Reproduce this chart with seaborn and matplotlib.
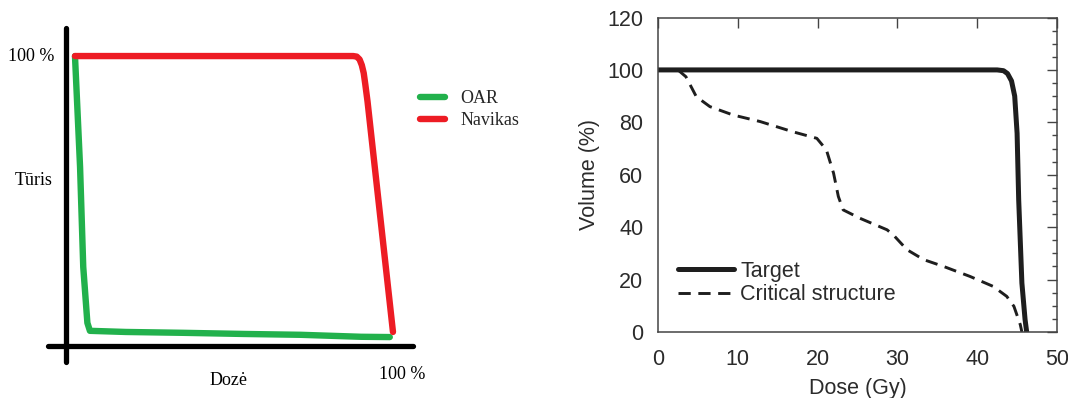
import matplotlib
matplotlib.use("Agg")
import matplotlib.pyplot as plt
from matplotlib.ticker import MultipleLocator
import pandas as pd
import seaborn as sns

# ---- schematic DVH (left) ----
oar_dose = [0, 1.6, 2.6, 3.9, 4.7, 16, 34, 53, 71, 90, 99]
oar_vol = [100, 60.9, 25.7, 6.0, 3.2, 2.8, 2.5, 2.1, 1.8, 1.1, 1.0]
nav_dose = [0, 87.5, 88.6, 89.5, 90.2, 90.8, 91.3, 92.0, 100]
nav_vol = [100, 100, 99.8, 98.8, 96.8, 94.0, 90.0, 84.0, 2.8]
left_names = ["OAR", "Navikas"]
left_colors = ["#22b14c", "#ed1c24"]

# ---- clinical DVH (right) ----
target_dose = [0, 42.5, 43.3, 43.8, 44.3, 44.7, 45.0, 45.2, 45.6, 46.0, 46.2]
target_vol = [100, 100, 99.7, 98.6, 95.8, 90.0, 75.8, 50.4, 18.7, 4.7, 0]
crit_dose = [0, 2.5, 3.5, 4.8, 6.5, 9.4, 12.8, 16.9, 19.9, 21.1, 22.0, 22.6,
             23.2, 25.3, 28.7, 29.5, 31.2, 33.3, 35.8, 39.1, 42.0, 43.7, 44.6,
             45.4, 45.6]
crit_vol = [100, 100, 97.4, 89.8, 86.0, 82.8, 80.3, 76.4, 73.9, 69.5, 60.6,
            51.7, 46.6, 43.4, 39.0, 37.0, 31.4, 27.6, 25.0, 21.2, 17.4, 13.6,
            9.8, 2.8, 0]
right_names = ["Target", "Critical structure"]
x_ticks = [0, 10, 20, 30, 40, 50]
y_ticks = [0, 20, 40, 60, 80, 100, 120]

sns.set_theme(style="white")
W, H = 1068, 398
fig = plt.figure(figsize=(W / 100, H / 100), dpi=100)


def px_axes(x0, y0, x1, y1):
    return fig.add_axes([x0 / W, 1 - y1 / H, (x1 - x0) / W, (y1 - y0) / H])


# ===== left panel =====
axl = px_axes(40, 20, 420, 370)
left_df = pd.concat([
    pd.DataFrame({"dose": oar_dose, "vol": oar_vol, "curve": left_names[0]}),
    pd.DataFrame({"dose": nav_dose, "vol": nav_vol, "curve": left_names[1]}),
])
sns.lineplot(data=left_df, x="dose", y="vol", hue="curve", hue_order=left_names,
             palette=left_colors, estimator=None, sort=False, linewidth=4.6,
             solid_capstyle="round", solid_joinstyle="round", ax=axl)
axl.set_xlim(-11.0, 108.5)
axl.set_ylim(-10.6, 112.7)
for side in ("top", "right"):
    axl.spines[side].set_visible(False)
axl.spines["left"].set_position(("data", -2.8))
axl.spines["left"].set_bounds(-7.7, 110)
axl.spines["bottom"].set_position(("data", -2.1))
axl.spines["bottom"].set_bounds(-8.5, 106.3)
for side in ("left", "bottom"):
    axl.spines[side].set_linewidth(3.8)
    axl.spines[side].set_color("black")
    axl.spines[side].set_capstyle("round")
axl.set_xticks([])
axl.set_yticks([])
axl.set_xlabel("")
axl.set_ylabel("")
serif = ["Liberation Serif", "DejaVu Serif"]
tkw = dict(family=serif, fontsize=13, color="black")
axl.text(-0.024, 100, "100 %", ha="center", va="center",
         transform=axl.get_yaxis_transform(), **tkw)
axl.text(-0.016, 0.542, "Tūris", ha="center", va="center",
         transform=axl.transAxes, **tkw)
axl.text(0.497, -0.005, "Dozė", ha="center", va="top",
         transform=axl.transAxes, **tkw)
axl.text(0.953, 0.012, "100 %", ha="center", va="top",
         transform=axl.transAxes, **tkw)
h, l = axl.get_legend_handles_labels()
axl.legend(h, l, loc="upper left", bbox_to_anchor=(1.0, 0.8), frameon=False,
           prop={"family": serif, "size": 13}, handlelength=1.4,
           handletextpad=0.85, labelspacing=0.3, borderpad=0, borderaxespad=0)

# ===== right panel =====
axr = px_axes(658, 17.5, 1057, 332)
right_df = pd.concat([
    pd.DataFrame({"dose": target_dose, "vol": target_vol, "curve": right_names[0]}),
    pd.DataFrame({"dose": crit_dose, "vol": crit_vol, "curve": right_names[1]}),
])
ink = "#1e1e1e"
widths = (3.6, 2.1)
sns.lineplot(data=right_df, x="dose", y="vol", style="curve", style_order=right_names,
             dashes={right_names[0]: "", right_names[1]: (4.2, 2.6)},
             color=ink, estimator=None, sort=False, ax=axr)
for line, lw in zip(axr.get_lines(), widths):
    line.set_linewidth(lw)
    line.set_solid_joinstyle("round")
axr.set_xlim(0, 50)
axr.set_ylim(0, 120)
axr.set_xticks(x_ticks)
axr.set_yticks(y_ticks)
axr.yaxis.set_minor_locator(MultipleLocator(5))
txt = "#2b2b2b"
fs = 15.5
axr.tick_params(which="both", direction="in", top=True, right=True,
                color="#444444", width=1.0)
axr.tick_params(which="major", length=7.5, labelsize=fs, labelcolor=txt)
axr.tick_params(axis="x", which="major", pad=12)
axr.tick_params(axis="y", which="major", pad=10.5)
axr.tick_params(which="minor", length=3.6)
for s in axr.spines.values():
    s.set_visible(True)
    s.set_color("#444444")
    s.set_linewidth(1.1)
sans = ["Liberation Sans", "DejaVu Sans"]
for lab in axr.get_xticklabels() + axr.get_yticklabels():
    lab.set_family(sans)
axr.set_xlabel("Dose (Gy)", family=sans, fontsize=fs, color=txt, labelpad=6)
axr.set_ylabel("Volume (%)", family=sans, fontsize=fs, color=txt, labelpad=5)
h, l = axr.get_legend_handles_labels()
for hh, lw in zip(h, widths):
    hh.set_linewidth(lw)
axr.legend(h, l, loc="lower left", bbox_to_anchor=(0.05, 0.085), frameon=False,
           prop={"family": sans, "size": fs}, labelcolor=txt,
           handlelength=2.6, handletextpad=0.3, labelspacing=0.12,
           borderpad=0, borderaxespad=0)

fig.savefig("out.png", dpi=100)
